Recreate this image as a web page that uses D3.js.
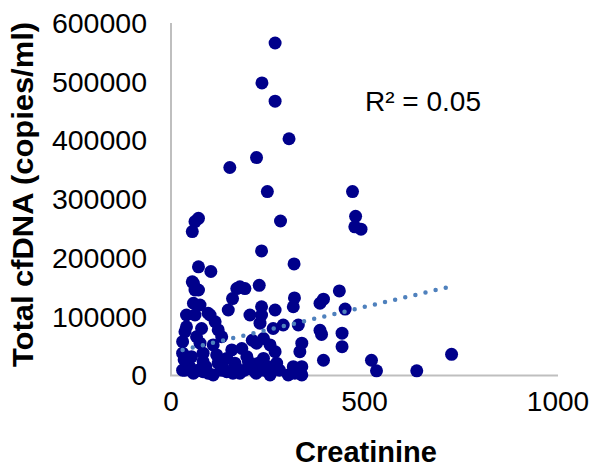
<!DOCTYPE html>
<html>
<head>
<meta charset="utf-8">
<script src="https://cdn.jsdelivr.net/npm/d3@7"></script>
<style>
  html, body { margin: 0; padding: 0; background: #fff; }
  svg { display: block; font-family: "Liberation Sans", Arial, sans-serif; }
</style>
</head>
<body>
<svg id="chart" width="599" height="467"></svg>
<script>
// Creatinine vs. total cfDNA (copies/ml)
const creatinine = [
  269, 235, 269, 305, 221, 152, 249, 469, 71, 62, 55, 283, 477, 475, 491, 234, 318, 71, 103,
  55, 71, 170, 191, 228, 159, 319, 394, 435, 450, 442, 442, 518, 531, 635, 725,
  316, 385, 234, 234, 269, 204, 290, 329, 385, 389, 338, 333, 394, 239, 221, 256, 269, 239, 273,
  316, 338, 338, 303, 256, 213, 226,
  58, 75, 148, 40, 62, 101, 114, 40, 36, 79, 122, 131, 30, 66, 75, 109, 157, 183, 30, 53, 83,
  118, 144, 196, 40, 83, 122, 165, 30, 58, 83, 109, 144, 178, 204, 96, 230, 264, 62, 58, 178,
  36, 70, 96, 130, 160, 190, 220, 240, 280, 320, 48, 90, 135, 170, 200, 250, 34, 210
];
const cfDNA = [
  566000, 498000, 467000, 403000, 371000, 354000, 313000, 313000, 267500, 262000, 245000, 263000, 271000, 253000, 249000, 212000, 190000, 185000, 177000,
  159500, 145500, 148000, 148000, 153500, 131000, 132000, 130000, 144000, 113000, 72000, 49000, 26000, 8000, 8000, 36000,
  117000, 123000, 117000, 103000, 111500, 103000, 86000, 86000, 77000, 70000, 55000, 40500, 26000, 63000, 55000, 52000, 40500, 29000, 21000,
  15000, 15000, 1000, 1000, 1000, 9000, 21000,
  123000, 120000, 111500, 103000, 103000, 103000, 91500, 83000, 74500, 80000, 77500, 66000, 57500, 66000, 55000, 52000, 43500, 46000, 38000, 32000, 38000,
  35000, 29000, 32000, 23500, 23500, 21000, 21000, 9000, 4000, 6500, 1000, 6500, 4000, 15000, 106000, 89000, 80000, 145500, 157000, 151000,
  9000, 9000, 4000, 9000, 4000, 9000, 4000, 9000, 9000, 4000, 15000, 15000, 12000, 12000, 24000, 15000, 27000, 60000
];
// linear trendline coefficients (cfDNA = slope * creatinine + intercept)
const trendSlope = 156;
const trendIntercept = 38700;
const xTicks = [0, 500, 1000];
const yTicks = [0, 100000, 200000, 300000, 400000, 500000, 600000];
const xTitle = "Creatinine";
const yTitle = "Total cfDNA (copies/ml)";
const rSquaredLabel = "R² = 0.05";

const points = creatinine.map((c, i) => ({ x: c, y: cfDNA[i] }));

const svg = d3.select("#chart");
const x = d3.scaleLinear().domain([0, 1000]).range([171, 558]);
const y = d3.scaleLinear().domain([0, 600000]).range([375.5, 23]);

// axis lines
svg.append("line")
  .attr("x1", x(0)).attr("x2", x(0))
  .attr("y1", y(600000)).attr("y2", y(0))
  .attr("stroke", "#bfbfbf").attr("stroke-width", 2);
svg.append("line")
  .attr("x1", x(0) - 1).attr("x2", x(1000))
  .attr("y1", y(0)).attr("y2", y(0))
  .attr("stroke", "#bfbfbf").attr("stroke-width", 2);

// tick labels
svg.append("g").selectAll("text").data(yTicks).join("text")
  .attr("x", 147).attr("y", d => y(d))
  .attr("dy", "0.35em")
  .attr("text-anchor", "end")
  .attr("font-size", 28.5)
  .attr("fill", "#000")
  .text(d => d3.format("d")(d));

svg.append("g").selectAll("text").data(xTicks).join("text")
  .attr("x", d => x(d)).attr("y", 401)
  .attr("dy", "0.35em")
  .attr("text-anchor", "middle")
  .attr("font-size", 28)
  .attr("fill", "#000")
  .text(d => d);

// axis titles
svg.append("text")
  .attr("x", 366).attr("y", 462)
  .attr("text-anchor", "middle")
  .attr("font-size", 29).attr("font-weight", "bold")
  .text(xTitle);

svg.append("text")
  .attr("transform", "translate(33,194.5) rotate(-90)")
  .attr("text-anchor", "middle")
  .attr("font-size", 29).attr("font-weight", "bold")
  .attr("textLength", 345).attr("lengthAdjust", "spacingAndGlyphs")
  .text(yTitle);

// points
svg.append("g").selectAll("circle").data(points).join("circle")
  .attr("cx", d => x(d.x)).attr("cy", d => y(d.y))
  .attr("r", 6.5)
  .attr("fill", "#00008b");

// dotted linear trendline over the creatinine range
const [xmin, xmax] = d3.extent(creatinine);
svg.append("line")
  .attr("x1", x(xmin)).attr("y1", y(trendIntercept + trendSlope * xmin))
  .attr("x2", x(xmax)).attr("y2", y(trendIntercept + trendSlope * xmax))
  .attr("stroke", "#4f81bd")
  .attr("stroke-width", 4.5)
  .attr("stroke-linecap", "round")
  .attr("stroke-dasharray", "0 10.4");

svg.append("text")
  .attr("x", 365).attr("y", 111)
  .attr("font-size", 28)
  .text(rSquaredLabel);
</script>
</body>
</html>
